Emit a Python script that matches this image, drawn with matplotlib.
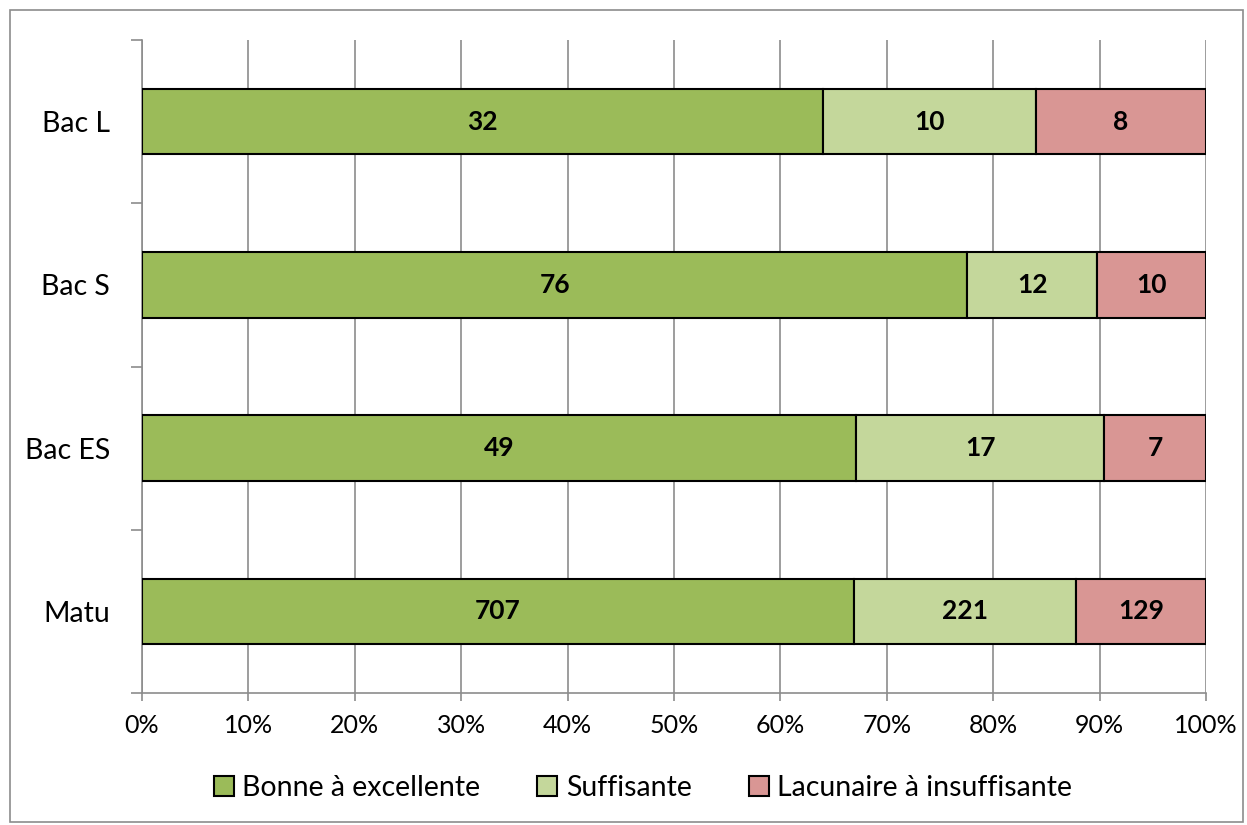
import numpy as np
import matplotlib.pyplot as plt
from matplotlib.patches import Rectangle

categories = ["Bac L", "Bac S", "Bac ES", "Matu"]
bonne = [32, 76, 49, 707]
suffisante = [10, 12, 17, 221]
lacunaire = [8, 10, 7, 129]
series_names = ["Bonne à excellente", "Suffisante", "Lacunaire à insuffisante"]
colors = ["#9BBB59", "#C4D79B", "#D99694"]

plt.rcParams["font.family"] = ["Lato", "DejaVu Sans"]

counts = np.array([bonne, suffisante, lacunaire], dtype=float)
totals = counts.sum(axis=0)
shares = counts / totals * 100

fig = plt.figure(figsize=(12.47, 8.25), dpi=100)
ax = fig.add_axes([142 / 1247, 1 - 693 / 825, (1206 - 142) / 1247, (693 - 40) / 825])

# outer frame of the chart
fig.patches.append(Rectangle((10 / 1247, 3 / 825), 1233 / 1247, 812 / 825,
                             transform=fig.transFigure, fill=False,
                             edgecolor="#8c8c8c", linewidth=1.2))

y = np.arange(len(categories))
left = np.zeros(len(categories))
for i in range(3):
    bars = ax.barh(y, shares[i], left=left, height=0.4, color=colors[i],
                   edgecolor="black", linewidth=1.5, label=series_names[i], zorder=3)
    for j, b in enumerate(bars):
        ax.text(left[j] + shares[i][j] / 2, y[j], f"{int(counts[i][j])}",
                ha="center", va="center", fontsize=19, fontweight="bold", zorder=4)
    left += shares[i]

ax.set_xlim(0, 100)
ax.set_ylim(3.5, -0.5)
ax.set_xticks(np.arange(0, 101, 10))
ax.set_xticklabels([f"{v}%" for v in range(0, 101, 10)], fontsize=18)
ax.set_yticks(y)
ax.set_yticklabels(categories, fontsize=20.5)
ax.set_yticks(np.arange(-0.5, 4, 1), minor=True)
ax.tick_params(axis="y", which="major", length=0, pad=23)
ax.tick_params(axis="y", which="minor", length=8, width=1.2, color="#8c8c8c")
ax.tick_params(axis="x", length=6, width=1.2, color="#8c8c8c", pad=9)

ax.grid(axis="x", color="#8c8c8c", linewidth=1.2, zorder=0)
for side in ["top", "right"]:
    ax.spines[side].set_visible(False)
for side in ["left", "bottom"]:
    ax.spines[side].set_color("#8c8c8c")
    ax.spines[side].set_linewidth(1.2)

fig.legend(loc="center", bbox_to_anchor=(643 / 1247, 1 - 788 / 825), ncol=3, frameon=False,
           fontsize=20.5, handlelength=0.7, handleheight=0.7, handletextpad=0.3,
           columnspacing=2.0)

fig.savefig("out.png", dpi=100)
